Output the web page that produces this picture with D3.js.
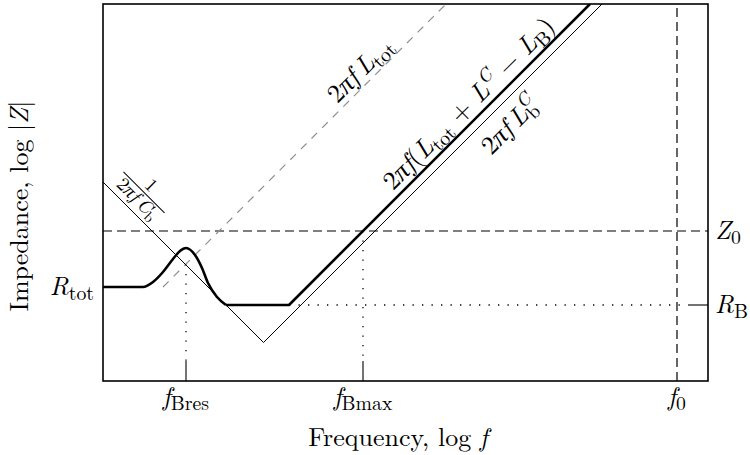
<!DOCTYPE html>
<html>
<head>
<meta charset="utf-8">
<script src="https://cdn.jsdelivr.net/npm/d3@7"></script>
<style>
  html, body { margin: 0; padding: 0; background: #fff; }
  svg { display: block; }
</style>
</head>
<body>
<svg id="chart" width="750" height="455"></svg>
<script>
// Asymptotic sketch of |Z| versus frequency, both on log axes (units: decades).

// Frequency markers along the bottom axis
const freqNames = ["Bres", "Bmax", "0"];
const freqValues = [0.83, 2.60, 5.74];

// Impedance levels
const levelNames = ["tot", "B", "0"];          // R_tot, R_B, Z_0
const levelValues = [0.94, 0.76, 1.50];

// Thin asymptote: 1/(2πfC_b) falling, meeting 2πfL_b^C rising
const capIndX = [0, 1.605, 4.99];
const capIndY = [1.99, 0.385, 3.77];

// Gray dashed asymptote 2πfL_tot
const ltotX = [0.60, 3.43];
const ltotY = [0.94, 3.77];

// Measured |Z|: flat R_tot, resonance bump, then down the capacitive slope
const bumpX = [0, 0.40, 0.50, 0.60, 0.70, 0.77, 0.83, 0.92, 0.99, 1.05, 1.14, 1.23];
const bumpY = [0.94, 0.94, 0.99, 1.09, 1.22, 1.30, 1.33, 1.26, 1.13, 0.98, 0.84, 0.76];

// Measured |Z|: R_B floor, then 2πf(L_tot + L^C − L_B)
const rampX = [1.23, 1.86, 4.87];
const rampY = [0.76, 0.76, 3.77];

const xDomain = [0, 6.05];
const yDomain = [0, 3.77];

const svg = d3.select("#chart")
  .attr("font-family", "'Latin Modern Roman', 'Liberation Serif', serif");
const padL = 103, padR = 708, padT = 4, padB = 381;

const x = d3.scaleLinear().domain(xDomain).range([padL, padR]);
const y = d3.scaleLinear().domain(yDomain).range([padB, padT]);

const zip = (a, b) => a.map((v, i) => [v, b[i]]);
const line = d3.line().x(d => x(d[0])).y(d => y(d[1]));
const smooth = d3.line().x(d => x(d[0])).y(d => y(d[1])).curve(d3.curveMonotoneX);

svg.append("defs").append("clipPath").attr("id", "plot")
  .append("rect").attr("x", padL).attr("y", padT)
  .attr("width", padR - padL).attr("height", padB - padT);

const plot = svg.append("g").attr("clip-path", "url(#plot)");

const fBres = freqValues[0], fBmax = freqValues[1], f0 = freqValues[2];
const Rtot = levelValues[0], RB = levelValues[1], Z0 = levelValues[2];
const tickLen = 20;

// Z_0 dashed level
plot.append("line")
  .attr("x1", x(xDomain[0])).attr("x2", x(xDomain[1]))
  .attr("y1", y(Z0)).attr("y2", y(Z0))
  .attr("stroke", "#000").attr("stroke-width", 1.2).attr("stroke-dasharray", "9,5");

// f_0 dashed marker
plot.append("line")
  .attr("x1", x(f0)).attr("x2", x(f0))
  .attr("y1", y(yDomain[0])).attr("y2", y(yDomain[1]))
  .attr("stroke", "#000").attr("stroke-width", 1.2).attr("stroke-dasharray", "9,5");

// dotted guides
const crossY = (capIndY[0] + ltotY[0] - ltotX[0]) / 2;   // where 1/(2πfC_b) meets 2πfL_tot
plot.append("line")
  .attr("x1", x(fBres)).attr("x2", x(fBres))
  .attr("y1", y(crossY)).attr("y2", padB - tickLen)
  .attr("stroke", "#000").attr("stroke-width", 1.3).attr("stroke-dasharray", "1.3,8.2");
plot.append("line")
  .attr("x1", x(fBmax)).attr("x2", x(fBmax))
  .attr("y1", y(Z0)).attr("y2", padB - tickLen)
  .attr("stroke", "#000").attr("stroke-width", 1.3).attr("stroke-dasharray", "1.3,8.2");
plot.append("line")
  .attr("x1", x(rampX[1])).attr("x2", padR - tickLen)
  .attr("y1", y(RB)).attr("y2", y(RB))
  .attr("stroke", "#000").attr("stroke-width", 1.3).attr("stroke-dasharray", "1.3,8.2");

// solid ticks
[fBres, fBmax].forEach(v => {
  svg.append("line")
    .attr("x1", x(v)).attr("x2", x(v))
    .attr("y1", padB - tickLen).attr("y2", padB)
    .attr("stroke", "#000").attr("stroke-width", 1.1);
});
svg.append("line")
  .attr("x1", padR - tickLen).attr("x2", padR)
  .attr("y1", y(RB)).attr("y2", y(RB))
  .attr("stroke", "#000").attr("stroke-width", 1.1);

// asymptotes
plot.append("path").datum(zip(ltotX, ltotY)).attr("d", line)
  .attr("fill", "none").attr("stroke", "#8f8f8f").attr("stroke-width", 1.2)
  .attr("stroke-dasharray", "8,7");
plot.append("path").datum(zip(capIndX, capIndY)).attr("d", line)
  .attr("fill", "none").attr("stroke", "#000").attr("stroke-width", 1);

// measured impedance
plot.append("path").datum(zip(bumpX, bumpY)).attr("d", smooth)
  .attr("fill", "none").attr("stroke", "#000").attr("stroke-width", 2.6)
  .attr("stroke-linejoin", "round");
plot.append("path").datum(zip(rampX, rampY)).attr("d", line)
  .attr("fill", "none").attr("stroke", "#000").attr("stroke-width", 2.6)
  .attr("stroke-linejoin", "round");

// frame
svg.append("rect").attr("x", padL).attr("y", padT)
  .attr("width", padR - padL).attr("height", padB - padT)
  .attr("fill", "none").attr("stroke", "#000").attr("stroke-width", 1.6);

// rich text: parts are [text, kind], kind = r | i | sub | sup | subBack | supBack
function rich(sel, parts, size) {
  let shift = 0, prev = null;
  parts.forEach(([t, k]) => {
    let fs = size, target = 0, italic = false;
    if (k === "i") italic = true;
    if (k === "sub" || k === "subBack") { fs = size * 0.76; target = size * 0.2; }
    if (k === "sup" || k === "supBack") { fs = size * 0.72; target = -size * 0.40; italic = true; }
    const ts = sel.append("tspan").text(t)
      .attr("font-size", fs)
      .attr("font-style", italic ? "italic" : "normal")
      .attr("dy", target - shift);
    if ((k === "subBack" || k === "supBack") && prev) {
      ts.attr("dx", -prev.node().getComputedTextLength());
    }
    shift = target;
    prev = ts;
  });
  return sel;
}

const FS = 26;

// axis titles
rich(svg.append("text").attr("text-anchor", "middle")
  .attr("transform", "translate(28,206) rotate(-90)"),
  [["Impedance, log |", "r"], ["Z", "i"], ["|", "r"]], FS);
rich(svg.append("text").attr("text-anchor", "middle")
  .attr("x", 398).attr("y", 446),
  [["Frequency, log ", "r"], ["f", "i"]], FS);

// frequency labels
freqNames.forEach((n, i) => {
  rich(svg.append("text").attr("text-anchor", "middle")
    .attr("x", x(freqValues[i])).attr("y", 405),
    [["f", "i"], [n, "sub"]], FS);
});

// level labels
rich(svg.append("text").attr("text-anchor", "end")
  .attr("x", padL - 9).attr("y", y(Rtot) + 8),
  [["R", "i"], [levelNames[0], "sub"]], FS);
rich(svg.append("text").attr("text-anchor", "start")
  .attr("x", padR + 7).attr("y", y(RB) + 8),
  [["R", "i"], [levelNames[1], "sub"]], FS);
rich(svg.append("text").attr("text-anchor", "start")
  .attr("x", padR + 7).attr("y", y(Z0) + 8),
  [["Z", "i"], [levelNames[2], "sub"]], FS);

// slanted labels placed along their lines; offset is perpendicular, px
function slanted(px, py, angle, offset) {
  return svg.append("text").attr("text-anchor", "middle")
    .attr("transform", `translate(${px},${py}) rotate(${angle}) translate(0,${-offset})`);
}

// 2πf L_tot, on the gray dashed line
const aL = 2.67;
rich(slanted(x(aL), y(aL + ltotY[0] - ltotX[0]), -45, 6),
  [["2", "r"], ["π", "i"], ["f", "i"], ["\u2009L", "i"], ["tot", "sub"]], FS);

// 2πf(L_tot + L^C − L_B), on the thick line
const aT = 3.765;
rich(slanted(x(aT), y(aT - (rampX[1] - rampY[1])), -45, 7),
  [["2", "r"], ["π", "i"], ["f", "i"], ["(", "r"], ["L", "i"], ["tot", "sub"],
   [" + ", "r"], ["L", "i"], ["C", "sup"], [" \u2212 ", "r"], ["L", "i"], ["B", "sub"], [")", "r"]], FS);

// 2πf L_b^C, below the thin rising line
const aB = 3.92;
rich(slanted(x(aB), y(aB - (capIndX[1] - capIndY[1])), -45, -29),
  [["2", "r"], ["π", "i"], ["f", "i"], ["\u2009L", "i"], ["b", "sub"], ["C", "supBack"]], FS);

// 1/(2πf C_b), above the thin falling line
const aC = 0.257;
const fracPx = x(aC), fracPy = y(capIndY[0] - aC);
const frac = svg.append("g")
  .attr("transform", `translate(${fracPx},${fracPy}) rotate(45) translate(0,-21.6)`);
frac.append("line").attr("x1", -29).attr("x2", 29).attr("y1", 0).attr("y2", 0)
  .attr("stroke", "#000").attr("stroke-width", 1);
frac.append("text").attr("text-anchor", "middle").attr("y", -4)
  .attr("font-size", 19).text("1");
rich(frac.append("text").attr("text-anchor", "middle").attr("y", 15),
  [["2", "r"], ["π", "i"], ["f", "i"], ["\u2009C", "i"], ["b", "sub"]], 19);
</script>
</body>
</html>
